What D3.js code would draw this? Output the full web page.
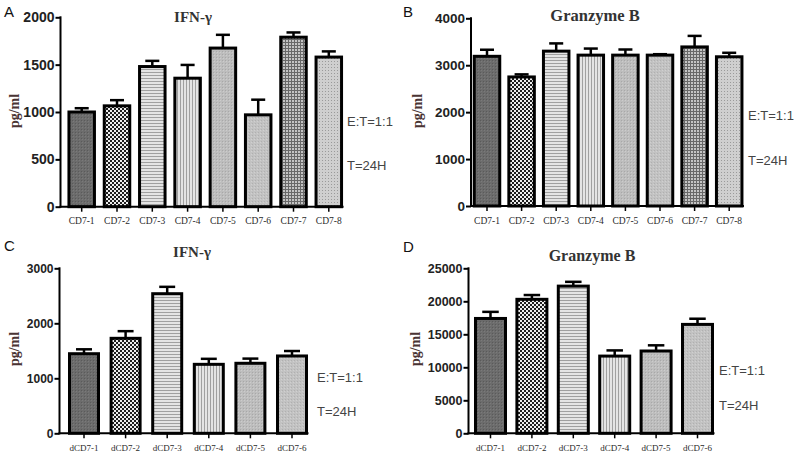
<!DOCTYPE html>
<html><head><meta charset="utf-8">
<script src="https://cdn.jsdelivr.net/npm/d3@7"></script>
<style>body{margin:0;background:#fff}svg{display:block}</style>
</head><body>
<svg id="c" width="800" height="462"></svg>
<script>
// ---- data ----
const catsTop = ["CD7-1","CD7-2","CD7-3","CD7-4","CD7-5","CD7-6","CD7-7","CD7-8"];
const catsBottom = ["dCD7-1","dCD7-2","dCD7-3","dCD7-4","dCD7-5","dCD7-6"];
const ifnTop = [1000,1065,1480,1357,1675,970,1790,1580];
const ifnTopErr = [40,60,60,140,140,160,50,60];
const gzbTop = [3190,2750,3300,3215,3215,3215,3390,3180];
const gzbTopErr = [140,55,165,140,120,20,235,85];
const ifnBottom = [1447,1727,2538,1254,1273,1406];
const ifnBottomErr = [80,130,125,100,85,90];
const gzbBottom = [17400,20300,22300,11700,12470,16500];
const gzbBottomErr = [1000,650,650,860,860,860];
const ticksA = [0,500,1000,1500,2000];
const ticksB = [0,1000,2000,3000,4000];
const ticksC = [0,1000,2000,3000];
const ticksD = [0,5000,10000,15000,20000,25000];
const patTop = ["p1","p2","p3","p4","p5","p6","p7","p8"];
const patBottom = ["p1","p2","p3","p4","p5","p6"];

const svg = d3.select("#c");
const defs = svg.append("defs");
function pat(id, w, h, bg, draw){
  const p = defs.append("pattern").attr("id",id).attr("patternUnits","userSpaceOnUse").attr("width",w).attr("height",h);
  p.append("rect").attr("width",w).attr("height",h).attr("fill",bg);
  draw(p);
}
pat("p1",3,3,"#6c6c6c",p=>{p.append("rect").attr("x",0).attr("y",0).attr("width",1).attr("height",1).attr("fill","#5a5a5a");p.append("rect").attr("x",1).attr("y",1).attr("width",1).attr("height",1).attr("fill","#7a7a7a");});
pat("p2",4,4,"#1e1e1e",p=>{p.append("rect").attr("x",0).attr("y",0).attr("width",2).attr("height",2).attr("fill","#eeeeee");p.append("rect").attr("x",2).attr("y",2).attr("width",2).attr("height",2).attr("fill","#eeeeee");});
pat("p3",3,3,"#e4e4e4",p=>{p.append("rect").attr("x",0).attr("y",0).attr("width",3).attr("height",1).attr("fill","#a0a0a0");});
pat("p4",3,3,"#e4e4e4",p=>{p.append("rect").attr("x",0).attr("y",0).attr("width",1).attr("height",3).attr("fill","#a0a0a0");});
pat("p5",3,3,"#bdbdbd",p=>{p.append("rect").attr("x",0).attr("y",0).attr("width",1).attr("height",1).attr("fill","#a8a8a8");p.append("rect").attr("x",1).attr("y",1).attr("width",1).attr("height",1).attr("fill","#cccccc");});
pat("p6",3,3,"#c2c2c2",p=>{p.append("rect").attr("x",0).attr("y",0).attr("width",1).attr("height",1).attr("fill","#b0b0b0");p.append("rect").attr("x",2).attr("y",1).attr("width",1).attr("height",1).attr("fill","#d0d0d0");});
pat("p7",3,3,"#c4c4c4",p=>{p.append("rect").attr("x",0).attr("y",0).attr("width",3).attr("height",1).attr("fill","#686868");p.append("rect").attr("x",0).attr("y",0).attr("width",1).attr("height",3).attr("fill","#686868");});
pat("p8",3,3,"#cfcfcf",p=>{p.append("rect").attr("x",1).attr("y",1).attr("width",1).attr("height",1).attr("fill","#9a9a9a");});

function panel(o){
  const g = svg.append("g");
  const n = o.cats.length;
  const p = 1 - o.bw/o.step;
  const x = d3.scaleBand().domain(o.cats)
    .range([o.c0 - o.step/2, o.c0 - o.step/2 + n*o.step])
    .paddingInner(p).paddingOuter(p/2);
  const y = d3.scaleLinear().domain([0, o.max]).range([o.yb, o.yt]);
  const xEnd = x(o.cats[n-1]) + x.bandwidth() + 2;

  // bars
  g.selectAll("rect.bar").data(o.vals).join("rect")
    .attr("x",(d,i)=>x(o.cats[i])).attr("width",x.bandwidth())
    .attr("y",d=>y(d)).attr("height",d=>y(0)-y(d))
    .attr("fill",(d,i)=>"url(#"+o.pats[i]+")")
    .attr("stroke","#000").attr("stroke-width",3);
  // error bars
  const capW = x.bandwidth()*0.55;
  o.vals.forEach((v,i)=>{
    const cx = x(o.cats[i]) + x.bandwidth()/2;
    g.append("line").attr("x1",cx).attr("x2",cx).attr("y1",y(v)).attr("y2",y(v+o.err[i])).attr("stroke","#000").attr("stroke-width",2.5);
    g.append("line").attr("x1",cx-capW/2).attr("x2",cx+capW/2).attr("y1",y(v+o.err[i])).attr("y2",y(v+o.err[i])).attr("stroke","#000").attr("stroke-width",2.5);
  });

  // y axis
  const ya = g.append("g").attr("transform",`translate(${o.x0},0)`)
    .call(d3.axisLeft(y).tickValues(o.ticks).tickSize(5).tickPadding(1).tickFormat(d3.format("d")));
  ya.select(".domain").remove();
  ya.selectAll(".tick line").attr("stroke","#000").attr("stroke-width",2);
  ya.selectAll(".tick text").attr("font-family","Liberation Sans, Arial, sans-serif").attr("font-weight","bold").attr("font-size",o.tfs).attr("fill","#222");
  g.append("line").attr("x1",o.x0).attr("x2",o.x0).attr("y1",o.yt-1).attr("y2",o.yb+1).attr("stroke","#000").attr("stroke-width",2);

  // x axis
  const xa = g.append("g").attr("transform",`translate(0,${o.yb})`)
    .call(d3.axisBottom(x).tickSize(5).tickPadding(6));
  xa.select(".domain").remove();
  xa.selectAll(".tick line").attr("stroke","#000").attr("stroke-width",1.5);
  xa.selectAll(".tick text").attr("font-family","Liberation Serif, Times New Roman, serif").attr("font-size",o.cfs).attr("fill","#2a2a2a");
  g.append("line").attr("x1",o.x0-1).attr("x2",xEnd).attr("y1",o.yb).attr("y2",o.yb).attr("stroke","#000").attr("stroke-width",2);

  // title
  g.append("text").attr("x",o.titleX).attr("y",o.titleY).attr("text-anchor","middle")
    .attr("font-family","Liberation Serif, Times New Roman, serif").attr("font-weight","bold").attr("font-size",o.titleFs).attr("fill","#333").text(o.title);
  // y label
  g.append("text").attr("transform",`translate(${o.ylx},${o.yly}) rotate(-90)`).attr("text-anchor","middle")
    .attr("font-family","Liberation Serif, Times New Roman, serif").attr("font-weight","bold").attr("font-size",14).attr("fill","#4a3434").text("pg/ml");
  // panel letter
  g.append("text").attr("x",o.lx).attr("y",o.ly).attr("font-family","Liberation Sans, Arial, sans-serif").attr("font-size",15).attr("fill","#111").text(o.letter);
  // annotations
  g.append("text").attr("x",o.ax).attr("y",o.ay1).attr("font-family","Liberation Sans, Arial, sans-serif").attr("font-size",13).attr("fill","#444").text("E:T=1:1");
  g.append("text").attr("x",o.ax).attr("y",o.ay2).attr("font-family","Liberation Sans, Arial, sans-serif").attr("font-size",13).attr("fill","#444").text("T=24H");
}

panel({cats:catsTop, vals:ifnTop, err:ifnTopErr, pats:patTop, ticks:ticksA, max:2000,
  x0:60.5, yb:206.7, yt:17.3, c0:81.7, step:35.3, bw:25.5, tfs:14, cfs:9.5,
  title:"IFN-γ", titleX:193, titleY:22, titleFs:15, ylx:19, yly:111, letter:"A", lx:4, ly:17,
  ax:347, ay1:126, ay2:170});
panel({cats:catsTop, vals:gzbTop, err:gzbTopErr, pats:patTop, ticks:ticksB, max:4000,
  x0:471, yb:206, yt:18.3, c0:487, step:34.6, bw:25.5, tfs:13.5, cfs:9.5,
  title:"Granzyme B", titleX:595, titleY:21, titleFs:16.5, ylx:422, yly:111, letter:"B", lx:403, ly:17,
  ax:748, ay1:120, ay2:165});
panel({cats:catsBottom, vals:ifnBottom, err:ifnBottomErr, pats:patBottom, ticks:ticksC, max:3000,
  x0:59.5, yb:433.3, yt:268.3, c0:84, step:41.6, bw:29, tfs:12, cfs:9,
  title:"IFN-γ", titleX:192, titleY:257, titleFs:15, ylx:19, yly:349, letter:"C", lx:4, ly:251,
  ax:317, ay1:382, ay2:416});
panel({cats:catsBottom, vals:gzbBottom, err:gzbBottomErr, pats:patBottom, ticks:ticksD, max:25000,
  x0:468.5, yb:433.3, yt:268.3, c0:490.5, step:41.4, bw:30, tfs:12.5, cfs:9,
  title:"Granzyme B", titleX:592, titleY:261, titleFs:16, ylx:420, yly:349, letter:"D", lx:403, ly:252,
  ax:719, ay1:375, ay2:410});
</script>
</body></html>
